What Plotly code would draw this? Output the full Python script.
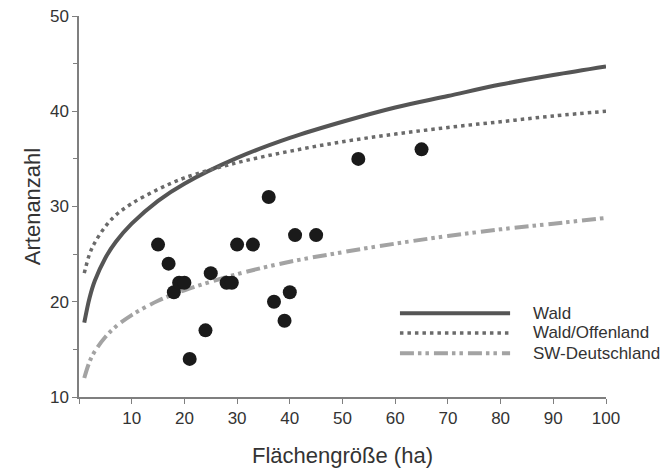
import plotly.graph_objects as go

# Observed plots: area (ha) vs. species count
flaeche = [15, 17, 18, 19, 20, 21, 24, 25, 28, 29, 30, 33, 36, 37, 39, 40, 41, 45, 53, 65]
arten = [26, 24, 21, 22, 22, 14, 17, 23, 22, 22, 26, 26, 31, 20, 18, 21, 27, 27, 35, 36]

# Species-area curves, values
kurve_x = [1, 2, 3, 5, 7, 10, 15, 20, 30, 40, 50, 60, 70, 80, 90, 100]
wald = [17.8, 20.4, 22.2, 24.6, 26.3, 28.2, 30.6, 32.4, 35.1, 37.2, 38.9, 40.4, 41.6, 42.8, 43.8, 44.7]
wald_offen = [23.0, 25.0, 26.2, 27.9, 29.1, 30.3, 31.8, 33.0, 34.6, 35.8, 36.8, 37.6, 38.3, 38.9, 39.5, 40.0]
sw_de = [12.0, 13.7, 14.8, 16.3, 17.4, 18.6, 20.1, 21.2, 22.9, 24.2, 25.2, 26.1, 26.9, 27.6, 28.2, 28.8]

x_ticks = [0, 10, 20, 30, 40, 50, 60, 70, 80, 90, 100]
y_ticks = [10, 20, 30, 40, 50]

legend_names = ['Wald', 'Wald/Offenland', 'SW-Deutschland']

FONT = 'Liberation Sans, Arial, sans-serif'
AXIS_COLOR = '#7f7f7f'
TEXT_COLOR = '#333333'

styles = [
    dict(color='#555555', width=4, dash='solid'),
    dict(color='#6a6a6a', width=3.5, dash='3.5px,4px'),
    dict(color='#a3a3a3', width=4, dash='14px,4px,3.5px,4px,3.5px,5px'),
]

fig = go.Figure()

for ys, name, st in zip([wald, wald_offen, sw_de], legend_names, styles):
    fig.add_trace(go.Scatter(
        x=kurve_x, y=ys, name=name, mode='lines',
        line=dict(color=st['color'], width=st['width'], dash=st['dash'], shape='spline'),
        showlegend=False,
    ))

fig.add_trace(go.Scatter(
    x=flaeche, y=arten, mode='markers', name='Flächen',
    marker=dict(color='#1a1a1a', size=14, line=dict(width=0)),
    showlegend=False,
))

# Hand-drawn legend (long line samples like the original)
legend_y = [0.220, 0.168, 0.115]
for name, st, ly in zip(legend_names, styles, legend_y):
    fig.add_shape(type='line', xref='paper', yref='paper',
                  x0=0.609, x1=0.818, y0=ly, y1=ly,
                  line=dict(color=st['color'], width=st['width'], dash=st['dash']))
    fig.add_annotation(xref='paper', yref='paper', x=0.858, y=ly,
                       text=name, showarrow=False, xanchor='left', yanchor='middle',
                       font=dict(size=17, color=TEXT_COLOR, family=FONT))

# page body has an 8px margin, so the figure is a bit smaller than the window
fig.update_layout(
    width=661, height=467,
    paper_bgcolor='white', plot_bgcolor='white',
    margin=dict(l=71, r=63, t=8, b=78),
    font=dict(family=FONT, size=17, color=TEXT_COLOR),
    xaxis=dict(
        range=[0, 100],
        tickvals=x_ticks,
        ticktext=['' if v == 0 else str(v) for v in x_ticks],
        ticks='outside', ticklen=5, tickwidth=1, tickcolor=AXIS_COLOR,
        showline=True, linecolor=AXIS_COLOR, linewidth=1.5,
        showgrid=False, zeroline=False, automargin=False,
        ticklabeloverflow='allow',
        title=dict(text='Flächengröße (ha)', font=dict(size=22, color=TEXT_COLOR), standoff=20),
    ),
    yaxis=dict(
        range=[10, 50],
        tickvals=y_ticks,
        ticks='outside', ticklen=5, tickwidth=1, tickcolor=AXIS_COLOR,
        minor=dict(dtick=5, tick0=5, ticks='outside', ticklen=4, tickcolor=AXIS_COLOR),
        showline=True, linecolor=AXIS_COLOR, linewidth=1.5,
        showgrid=False, zeroline=False, automargin=False,
        ticklabeloverflow='allow',
        title=dict(text='Artenanzahl', font=dict(size=22, color=TEXT_COLOR), standoff=3),
    ),
)

fig.write_html('out.html')
